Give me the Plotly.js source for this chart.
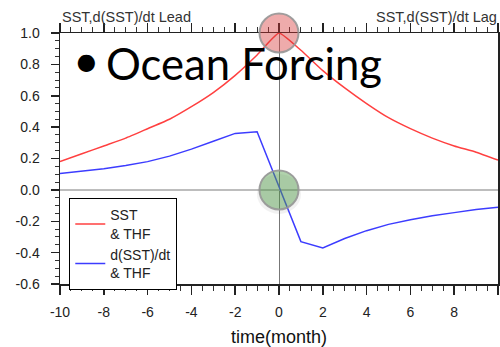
<!DOCTYPE html>
<html>
<head>
<meta charset="utf-8">
<script src="https://cdn.plot.ly/plotly-3.0.1.min.js"></script>
<style>html,body{margin:0;padding:0;background:#fff;}#chart{width:500px;height:347px;}</style>
</head>
<body>
<div id="chart"></div>
<script>
const months = [-10,-9,-8,-7,-6,-5,-4,-3,-2,-1,0,1,2,3,4,5,6,7,8,9,10];
const sstThf = [0.18,0.23,0.28,0.33,0.39,0.45,0.53,0.62,0.73,0.86,1.0,0.89,0.76,0.65,0.55,0.46,0.39,0.33,0.28,0.24,0.19];
const dsstThf = [0.105,0.12,0.135,0.155,0.18,0.215,0.26,0.31,0.36,0.37,0.02,-0.33,-0.37,-0.31,-0.26,-0.22,-0.19,-0.165,-0.145,-0.125,-0.11];
const seriesNames = ['SST<br>& THF', 'd(SST)/dt<br>& THF'];
const xTickVals = [-10,-8,-6,-4,-2,0,2,4,6,8,10];
const yTickVals = [-0.6,-0.4,-0.2,0.0,0.2,0.4,0.6,0.8,1.0];

const baseFont = 'Liberation Sans, Arial, Helvetica, sans-serif';

const traces = [
  {x: months, y: sstThf, name: seriesNames[0], type: 'scatter', mode: 'lines',
   line: {color: '#ff4040', width: 1.5, shape: 'spline', smoothing: 0.4}},
  {x: months, y: dsstThf, name: seriesNames[1], type: 'scatter', mode: 'lines',
   line: {color: '#3c3cff', width: 1.5}}
];

const layout = {
  width: 500, height: 347,
  margin: {l: 60, r: 2, t: 33, b: 63, pad: 0},
  paper_bgcolor: '#fff', plot_bgcolor: '#fff',
  showlegend: true,
  font: {family: baseFont, color: '#222'},
  xaxis: {
    range: [-10, 10], tickvals: xTickVals, ticktext: xTickVals.map(String),
    ticks: 'outside', ticklen: 9, tickwidth: 1.5, tickcolor: '#222',
    showline: true, linecolor: '#222', linewidth: 1.5, mirror: 'ticks',
    minor: {dtick: 0.5, ticks: 'outside', ticklen: 5, tickwidth: 1, tickcolor: '#333'},
    showgrid: false, zeroline: true, zerolinecolor: '#777', zerolinewidth: 1,
    tickfont: {family: baseFont, size: 14, color: '#222'},
    ticklabelstandoff: 6,
    title: {text: 'time(month)', font: {family: baseFont, size: 18, color: '#111'}, standoff: 11}
  },
  yaxis: {
    range: [-0.6, 1.0], tickvals: yTickVals, ticktext: yTickVals.map(v => v.toFixed(1)),
    ticks: 'outside', ticklen: 8, tickwidth: 1.5, tickcolor: '#222',
    showline: true, linecolor: '#222', linewidth: 1.5, mirror: 'ticks',
    minor: {dtick: 0.05, ticks: 'outside', ticklen: 4, tickwidth: 1, tickcolor: '#333'},
    showgrid: false, zeroline: true, zerolinecolor: '#bdbdbd', zerolinewidth: 2.5,
    tickfont: {family: baseFont, size: 14, color: '#222'},
    ticklabelstandoff: 8
  },
  legend: {
    x: 0.0205, y: 0.3426, xanchor: 'left', yanchor: 'top',
    bordercolor: '#000', borderwidth: 1.3, bgcolor: '#fff',
    font: {family: baseFont, size: 14, color: '#222'},
    itemwidth: 30, tracegroupgap: 2
  },
  shapes: [
    {type: 'circle', xref: 'x', yref: 'y', xsizemode: 'pixel', ysizemode: 'pixel',
     xanchor: 0, yanchor: 0, x0: -22, x1: 22, y0: -24, y1: 16,
     fillcolor: 'rgba(120,120,120,0.10)', line: {width: 0}, layer: 'above'},
    {type: 'circle', xref: 'x', yref: 'paper', xsizemode: 'pixel', ysizemode: 'pixel',
     xanchor: 0, yanchor: 1, x0: -19.5, x1: 19.5, y0: -19.5, y1: 19.5,
     fillcolor: 'rgba(215,55,55,0.42)', line: {color: 'rgba(150,150,150,0.9)', width: 2}, layer: 'above'},
    {type: 'circle', xref: 'x', yref: 'y', xsizemode: 'pixel', ysizemode: 'pixel',
     xanchor: 0, yanchor: 0, x0: -19.5, x1: 19.5, y0: -19.5, y1: 19.5,
     fillcolor: 'rgba(80,155,70,0.45)', line: {color: 'rgba(150,150,150,0.9)', width: 2}, layer: 'above'}
  ],
  annotations: [
    {text: 'SST,d(SST)/dt Lead', xref: 'paper', yref: 'paper', x: 0, y: 1, xanchor: 'left', yanchor: 'bottom',
     yshift: 6, showarrow: false, font: {family: baseFont, size: 14.5, color: '#333'}},
    {text: 'SST,d(SST)/dt Lag', xref: 'paper', yref: 'paper', x: 1, y: 1, xanchor: 'right', yanchor: 'bottom',
     yshift: 6, xshift: 1, showarrow: false, font: {family: baseFont, size: 14.5, color: '#333'}},
    {text: '•', xref: 'paper', yref: 'paper', x: 0.0616, y: 0.88, xanchor: 'center', yanchor: 'middle',
     yshift: 4, showarrow: false, font: {family: 'Lato, Open Sans, sans-serif', size: 46, color: '#000'}},
    {text: 'Ocean Forcing', xref: 'paper', yref: 'paper', x: 0.1005, y: 0.88, xanchor: 'left', yanchor: 'middle',
     showarrow: false, font: {family: 'Lato, Open Sans, sans-serif', size: 43.6, color: '#000'}}
  ]
};

Plotly.newPlot('chart', traces, layout, {displayModeBar: false, staticPlot: true});
</script>
</body>
</html>
